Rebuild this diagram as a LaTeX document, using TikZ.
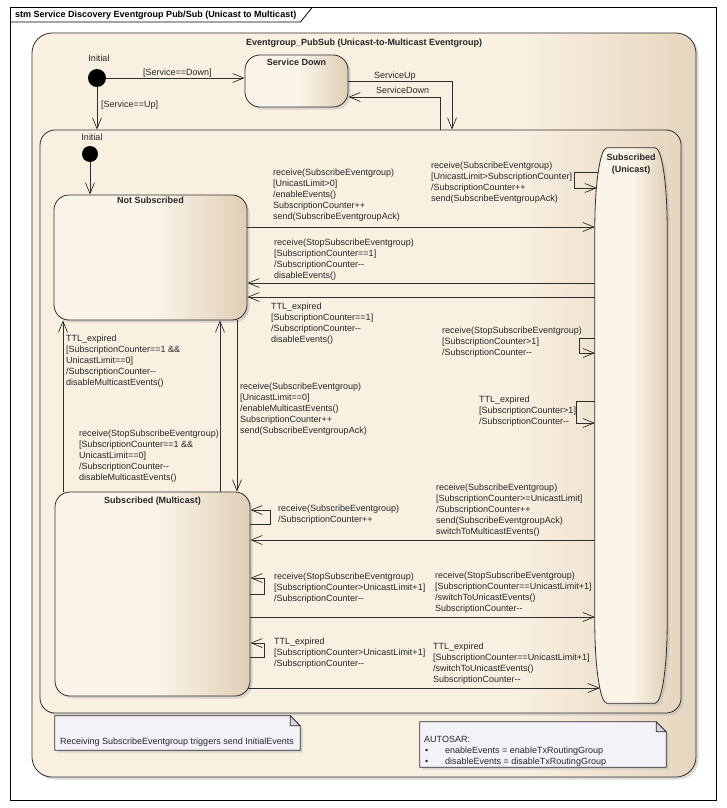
\documentclass[tikz,border=0pt]{standalone}
\usepackage{fontspec}
\setmainfont{Liberation Sans}
\usetikzlibrary{calc}
\usetikzlibrary{arrows.meta}
\usetikzlibrary{shadows}

\definecolor{stLight}{RGB}{251,244,233}
\definecolor{stDark}{RGB}{224,207,183}
\definecolor{cpLight}{RGB}{249,240,226}
\definecolor{cpDark}{RGB}{230,214,191}
\definecolor{noteFill}{RGB}{244,242,249}
\definecolor{earFill}{RGB}{214,212,222}
\definecolor{lineDark}{RGB}{45,45,45}

\pgfdeclarehorizontalshading{stShade}{100bp}{color(0bp)=(stLight); color(25bp)=(stLight); color(51bp)=(stLight); color(75bp)=(stDark); color(100bp)=(stDark)}
\pgfdeclarehorizontalshading{cpShade}{100bp}{color(0bp)=(cpLight); color(25bp)=(cpLight); color(62bp)=(cpLight); color(75bp)=(cpDark); color(100bp)=(cpDark)}

\newcommand{\txtsize}{\fontsize{9}{11.2}\selectfont}

\begin{document}
\begin{tikzpicture}[x=1pt,y=-1pt,
  >={Straight Barb[length=11pt,width=9pt]},
  shdw/.style={drop shadow={shadow xshift=2.5pt,shadow yshift=-2.5pt,fill=black!28}},
  comp/.style={draw=lineDark,line width=0.8pt,shade,shading=cpShade,shdw},
  state/.style={draw=lineDark,line width=0.8pt,rounded corners=15pt,shade,shading=stShade,shdw,inner sep=0pt},
  init/.style={circle,fill=black,inner sep=0pt},
  trans/.style={draw=lineDark,line width=0.7pt,->},
  lbl/.style={font=\txtsize,text=black!85,align=left,anchor=base west,inner sep=0pt},
  tlbl/.style={font=\txtsize,text=black!85,align=left,anchor=north west,yshift=6.6pt,inner sep=0pt},
  ttl/.style={font=\txtsize\bfseries,text=black!85,align=center,anchor=base,inner sep=0pt},
  note/.style={draw=lineDark,line width=0.7pt,fill=noteFill,shdw}]
\useasboundingbox (0,0) rectangle (726,808);

% diagram frame
\draw[line width=0.8pt,fill=white] (10,7) rectangle (716,800);
\node[font=\txtsize\bfseries,anchor=base west,inner sep=0pt] (FT) at (15,18) {stm Service Discovery Eventgroup Pub/Sub (Unicast to Multicast)};
\coordinate (FTa) at ($(FT.east)+(4,0)$);
\coordinate (FTb) at ($(FT.east)+(16,0)$);
\coordinate (FTy) at (0,22);
\coordinate (FTz) at (0,7);
\draw[line width=0.8pt] (10,22) -- (FTa |- FTy) -- (FTb |- FTz);

% composite state
\node[comp,rounded corners=20pt,minimum width=664pt,minimum height=744pt] (EG) at (364,405) {};
\node[ttl] (EGT) at ($(EG.north)+(0,12.5)$) {Eventgroup\_PubSub (Unicast-to-Multicast Eventgroup)};

\node[init,minimum size=18pt] (I1) at (97,78) {};
\node[lbl,anchor=base] (I1L) at (99,62) {Initial};

\node[state,minimum width=103pt,minimum height=52pt] (SD) at (296.5,81) {};
\node[ttl] (SDT) at ($(SD.north)+(0,11)$) {Service Down};

\node[comp,rounded corners=15pt,minimum width=641pt,minimum height=583pt] (IC) at (360.5,421.5) {};

\draw[trans] (I1) -- (I1 -| SD.west);
\node[lbl] (L0a) at (143,75) {[Service==Down]};
\draw[trans] (I1) -- (I1 |- IC.north);
\node[lbl] (L0b) at (101,107) {[Service==Up]};
\coordinate (UP) at (452,81);
\draw[trans] (UP -| SD.east) -- (UP) -- (UP |- IC.north);
\node[lbl] (L0c) at (374,78) {ServiceUp};
\coordinate (DN) at (440,97);
\draw[trans] (DN |- IC.north) -- (DN) -- (DN -| SD.east);
\node[lbl] (L0d) at (376,93) {ServiceDown};

% inner states
\node[init,minimum size=16pt] (I2) at (90,154) {};
\node[lbl,anchor=base] (I2L) at (92,140) {Initial};

\node[state,minimum width=193pt,minimum height=125pt] (NS) at (150.5,257.5) {};
\node[ttl] (NST) at ($(NS.north)+(0,9)$) {Not Subscribed};
\draw[trans] (I2) -- (I2 |- NS.north);

\node[state,minimum width=195pt,minimum height=204pt] (MC) at (152.5,594) {};
\node[ttl] (MCT) at ($(MC.north)+(0,11.5)$) {Subscribed (Multicast)};

\node[minimum width=72pt,minimum height=555pt,inner sep=0pt] (UC) at (631,425.5) {};
\path[draw=lineDark,line width=0.8pt,shade,shading=stShade,shdw]
  ($(UC.north west)+(12,0)$) -- ($(UC.north east)+(-12,0)$)
  .. controls ($(UC.north east)+(-5.4,0)$) and ($(UC.north east)+(0,35.8)$) .. ($(UC.north east)+(0,80)$)
  -- ($(UC.south east)+(0,-80)$)
  .. controls ($(UC.south east)+(0,-35.8)$) and ($(UC.south east)+(-5.4,0)$) .. ($(UC.south east)+(-12,0)$)
  -- ($(UC.south west)+(12,0)$)
  .. controls ($(UC.south west)+(5.4,0)$) and ($(UC.south west)+(0,-35.8)$) .. ($(UC.south west)+(0,-80)$)
  -- ($(UC.north west)+(0,80)$)
  .. controls ($(UC.north west)+(0,35.8)$) and ($(UC.north west)+(5.4,0)$) .. ($(UC.north west)+(12,0)$)
  -- cycle;
\node[ttl] (UCT) at ($(UC.north)+(0,24.2)$) {Subscribed\\(Unicast)};

% not subscribed <-> unicast
\coordinate (ya) at (0,227);
\draw[trans] (NS.east |- ya) -- (UC.west |- ya);
\node[tlbl] (La) at (273,175) {receive(SubscribeEventgroup)\\{}[UnicastLimit>0]\\/enableEvents()\\SubscriptionCounter++\\send(SubscribeEventgroupAck)};
\coordinate (yb) at (0,283);
\draw[trans] (UC.west |- yb) -- (NS.east |- yb);
\node[tlbl] (Lb) at (274,245) {receive(StopSubscribeEventgroup)\\{}[SubscriptionCounter==1]\\/SubscriptionCounter-{}-\\disableEvents()};
\coordinate (yc) at (0,297);
\draw[trans] (UC.west |- yc) -- (NS.east |- yc);
\node[tlbl] (Lc) at (271,309) {TTL\_expired\\{}[SubscriptionCounter==1]\\/SubscriptionCounter-{}-\\disableEvents()};

% unicast self transitions
\coordinate (ua) at (0,172);
\draw[trans] ($(UC.west |- ua)+(3,0)$) -- ++(-23,0) -- ++(0,16) -- ++(22,0);
\node[tlbl] (Ld) at (431,168) {receive(SubscribeEventgroup)\\{}[UnicastLimit>SubscriptionCounter]\\/SubscriptionCounter++\\send(SubscribeEventgroupAck)};
\coordinate (ub) at (0,338);
\draw[trans] (UC.west |- ub) -- ++(-15,0) -- ++(0,15) -- ++(15,0);
\node[tlbl] (Le) at (442,333) {receive(StopSubscribeEventgroup)\\{}[SubscriptionCounter>1]\\/SubscriptionCounter-{}-};
\coordinate (uc) at (0,401);
\draw[trans] (UC.west |- uc) -- ++(-18,0) -- ++(0,22) -- ++(18,0);
\node[tlbl] (Lf) at (479,402) {TTL\_expired\\{}[SubscriptionCounter>1]\\/SubscriptionCounter-{}-};

% not subscribed <-> multicast
\coordinate (xa) at (63,0);
\draw[trans] (xa |- MC.north) -- (xa |- NS.south);
\node[tlbl] (Lg) at (66,341) {TTL\_expired\\{}[SubscriptionCounter==1 \&\&\\UnicastLimit==0]\\/SubscriptionCounter-{}-\\disableMulticastEvents()};
\coordinate (xb) at (220,0);
\draw[trans] (xb |- MC.north) -- (xb |- NS.south);
\node[tlbl] (Lh) at (79,436) {receive(StopSubscribeEventgroup)\\{}[SubscriptionCounter==1 \&\&\\UnicastLimit==0]\\/SubscriptionCounter-{}-\\disableMulticastEvents()};
\coordinate (xc) at (237,0);
\draw[trans] (xc |- NS.south) -- (xc |- MC.north);
\node[tlbl] (Li) at (240,389) {receive(SubscribeEventgroup)\\{}[UnicastLimit==0]\\/enableMulticastEvents()\\SubscriptionCounter++\\send(SubscribeEventgroupAck)};

% multicast self transitions
\coordinate (ma) at (0,524);
\draw[trans] (MC.east |- ma) -- ++(20,0) -- ++(0,-14) -- ++(-20,0);
\node[tlbl] (Lj) at (278,511) {receive(SubscribeEventgroup)\\/SubscriptionCounter++};
\coordinate (mb) at (0,594);
\draw[trans] (MC.east |- mb) -- ++(14,0) -- ++(0,-16) -- ++(-14,0);
\node[tlbl] (Lk) at (274,579) {receive(StopSubscribeEventgroup)\\{}[SubscriptionCounter>UnicastLimit+1]\\/SubscriptionCounter-{}-};
\coordinate (mc) at (0,657);
\draw[trans] (MC.east |- mc) -- ++(14,0) -- ++(0,-14) -- ++(-14,0);
\node[tlbl] (Ll) at (274,644) {TTL\_expired\\{}[SubscriptionCounter>UnicastLimit+1]\\/SubscriptionCounter-{}-};

% multicast <-> unicast
\coordinate (md) at (0,540);
\draw[trans] (UC.west |- md) -- (MC.east |- md);
\node[tlbl] (Lm) at (436,490) {receive(SubscribeEventgroup)\\{}[SubscriptionCounter>=UnicastLimit]\\/SubscriptionCounter++\\send(SubscribeEventgroupAck)\\switchToMulticastEvents()};
\coordinate (me) at (0,617);
\draw[trans] (MC.east |- me) -- (UC.west |- me);
\node[tlbl] (Ln) at (435,578) {receive(StopSubscribeEventgroup)\\{}[SubscriptionCounter==UnicastLimit+1]\\/switchToUnicastEvents()\\SubscriptionCounter-{}-};
\coordinate (mf) at (0,688);
\draw[trans] ($(MC.east |- mf)+(-2,0)$) -- ($(UC.west |- mf)+(5,0)$);
\node[tlbl] (Lo) at (433,649) {TTL\_expired\\{}[SubscriptionCounter==UnicastLimit+1]\\/switchToUnicastEvents()\\SubscriptionCounter-{}-};

% notes
\node[minimum width=245pt,minimum height=34pt,inner sep=0pt] (N1) at (177.5,733) {};
\draw[note] (N1.south west) -- (N1.north west) -- ($(N1.north east)+(-10,0)$) -- ($(N1.north east)+(0,10)$) -- (N1.south east) -- cycle;
\draw[line width=0.7pt,draw=lineDark,fill=earFill] ($(N1.north east)+(-10,0)$) -- ($(N1.north east)+(-10,10)$) -- ($(N1.north east)+(0,10)$) -- cycle;
\node[lbl] (N1T) at (60,744) {Receiving SubscribeEventgroup triggers send InitialEvents};

\node[minimum width=246pt,minimum height=45pt,inner sep=0pt] (N2) at (543,744.5) {};
\draw[note] (N2.south west) -- (N2.north west) -- ($(N2.north east)+(-10,0)$) -- ($(N2.north east)+(0,10)$) -- (N2.south east) -- cycle;
\draw[line width=0.7pt,draw=lineDark,fill=earFill] ($(N2.north east)+(-10,0)$) -- ($(N2.north east)+(-10,10)$) -- ($(N2.north east)+(0,10)$) -- cycle;
\node[lbl] (N2T) at (424,742) {AUTOSAR:};
\node[lbl] (N2a) at (425,753) {\makebox[20pt][l]{\textbullet}enableEvents = enableTxRoutingGroup};
\node[lbl] (N2b) at (425,764) {\makebox[20pt][l]{\textbullet}disableEvents = disableTxRoutingGroup};

\end{tikzpicture}
\end{document}
